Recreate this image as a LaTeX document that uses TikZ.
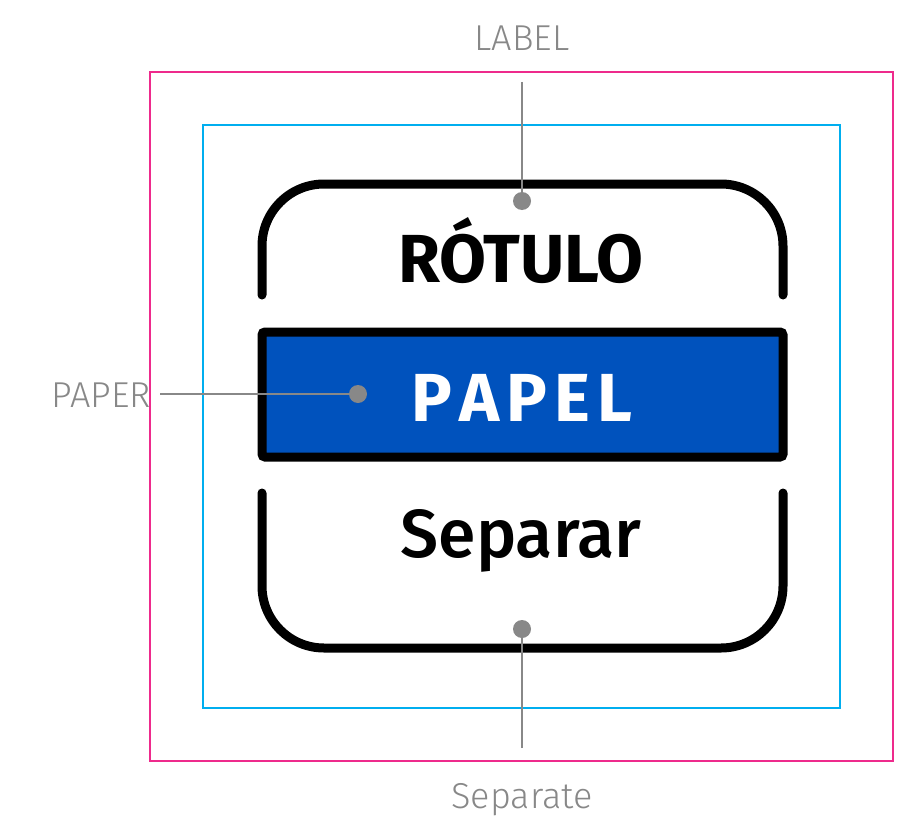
\documentclass[tikz,border=0pt]{standalone}
\usepackage{fontspec}
\usepackage{xcolor}
\setmainfont{Fira Sans}
\newfontfamily\lightfont{Fira Sans}[UprightFont=* Light]
\newfontfamily\mediumfont{Fira Sans}[UprightFont=* Medium]
\definecolor{marginpink}{HTML}{EE2A8C}
\definecolor{safecyan}{HTML}{00AEEF}
\definecolor{paperblue}{HTML}{0052BD}
\definecolor{leadergray}{HTML}{888888}
\tikzset{
  frame/.style={line width=2.5pt},
  bracket/.style={line width=9pt, line cap=round, rounded corners=62pt},
  leader/.style={leadergray, line width=2.5pt},
  tag/.style={leadergray, font=\lightfont\fontsize{36}{36}\selectfont, inner sep=0pt, anchor=base},
  big/.style={font=\bfseries\fontsize{68}{68}\selectfont, inner sep=0pt, anchor=base}
}

\begin{document}
\begin{tikzpicture}[x=1pt, y=-1pt]
    \useasboundingbox (0,0) rectangle (908,816);

    % Trim and safe area
    \draw[frame, marginpink] (150,72) rectangle (893,761);
    \draw[frame, safecyan] (203,125) rectangle (840,708);

    % Sticker outline
    \draw[bracket] (262,295) -- (262,184) -- (783,184) -- (783,295);
    \draw[bracket] (262,493) -- (262,648) -- (783,648) -- (783,493);
    \node[draw, line width=9pt, fill=paperblue, rounded corners=3pt,
          minimum width=521pt, minimum height=125pt, inner sep=0pt] (papel) at (522.5,394.5) {};

    % Texts
    \node[big] (rotulo) at (521,282) {RÓTULO};
    \node[big, white] (paptext) at (522,421) {P\kern7pt A\kern7pt P\kern7pt E\kern7pt L};
    \node[font=\mediumfont\fontsize{68}{68}\selectfont, inner sep=0pt, anchor=base] (separar) at (521,557) {Separar};

    % Leader labels
    \coordinate (dotlabel) at (522,201);
    \coordinate (dotpaper) at (358,394);
    \coordinate (dotsep) at (522,629);
    \node[tag] (label) at (522,51) {LABEL};
    \node[tag, anchor=base east] (paper) at (151,407) {PAPER};
    \node[tag] (separate) at (522,808) {Separate};
    \coordinate (labelend) at (522,82);
    \coordinate (paperend) at (160,394);
    \coordinate (sepend) at (522,748);

    \draw[leader] (labelend) -- (dotlabel);
    \draw[leader] (paperend) -- (dotpaper);
    \draw[leader] (sepend) -- (dotsep);
    \foreach \d in {dotlabel, dotpaper, dotsep}
        \fill[leadergray] (\d) circle[radius=9pt];
\end{tikzpicture}
\end{document}
